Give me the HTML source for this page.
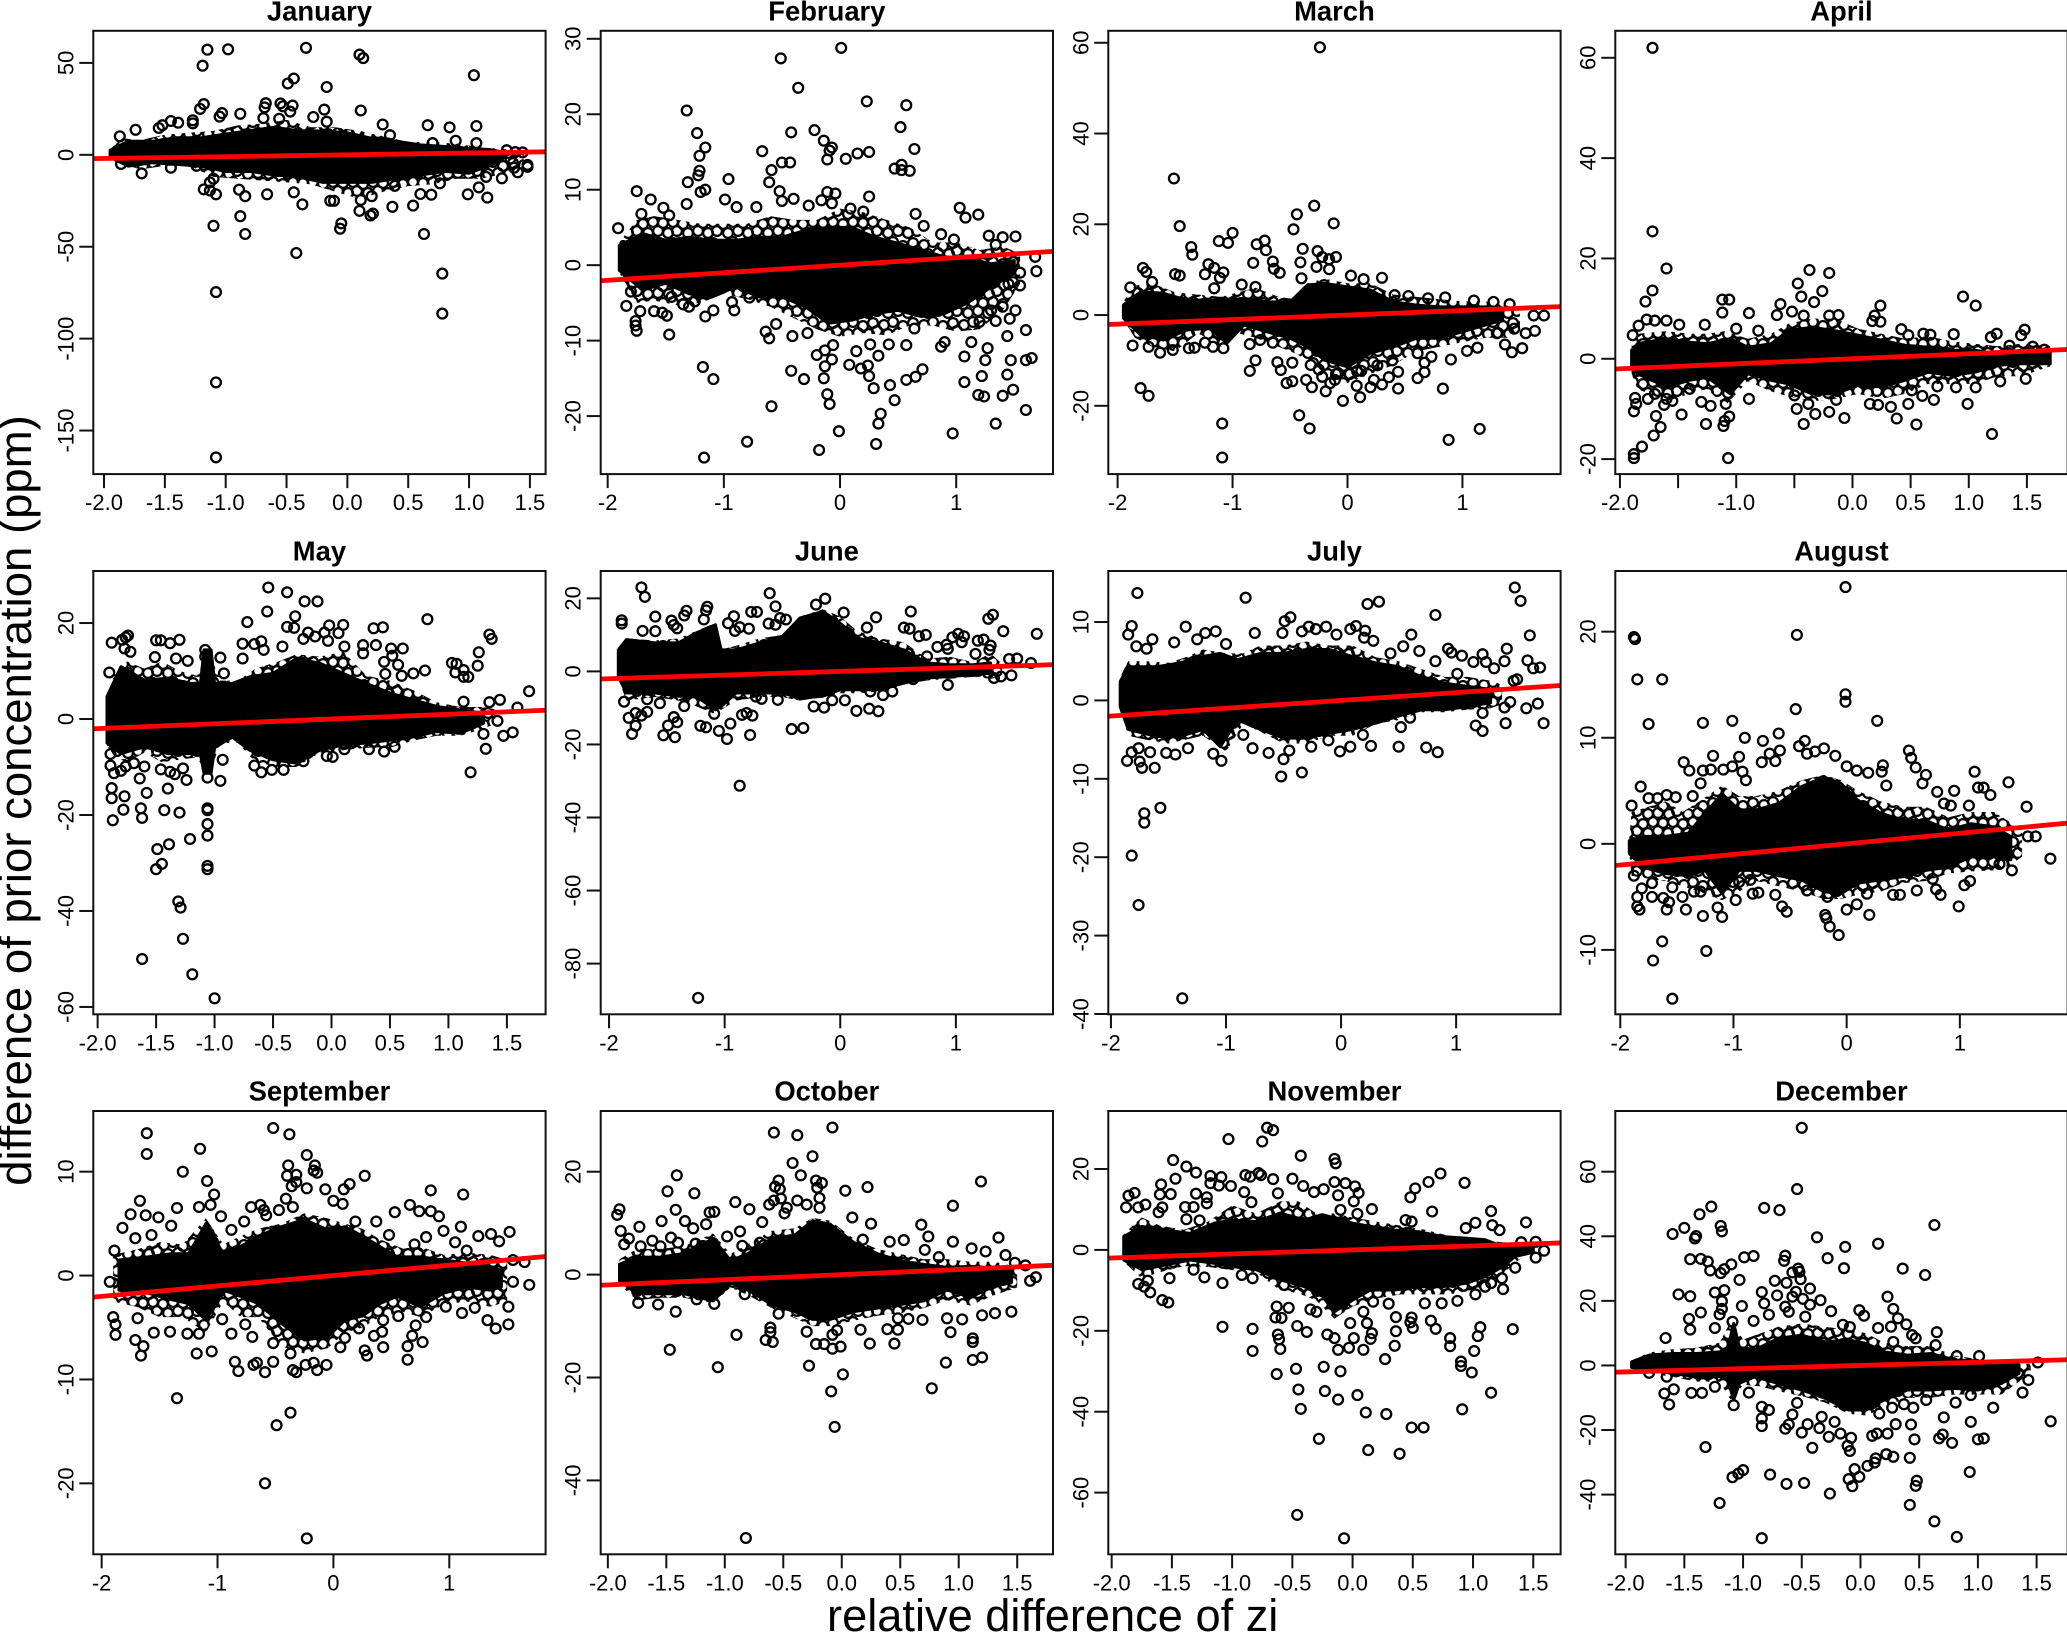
<!DOCTYPE html>
<html lang="en">
<head>
<meta charset="utf-8">
<title>Monthly scatter of prior concentration difference against relative difference of zi</title>
<style>
html,body{margin:0;padding:0;background:#fff;width:2067px;height:1633px;overflow:hidden}
svg{display:block}
text{font-family:"Liberation Sans",Arial,sans-serif;fill:#000}
</style>
</head>
<body>
<svg id="chart" xmlns="http://www.w3.org/2000/svg" width="2067" height="1633" viewBox="0 0 2067 1633">
<defs>
<pattern id="ring-texture" width="40" height="40" patternUnits="userSpaceOnUse">
<rect x="0" y="0" width="40" height="40" fill="#fff"/>
<g fill="none" stroke="#000" stroke-width="2.3">
<circle cx="4" cy="5" r="4.9"/><circle cx="44" cy="5" r="4.9"/><circle cx="4" cy="45" r="4.9"/><circle cx="44" cy="45" r="4.9"/>
<circle cx="13" cy="2" r="4.9"/><circle cx="13" cy="42" r="4.9"/>
<circle cx="23" cy="6" r="4.9"/>
<circle cx="33" cy="3" r="4.9"/><circle cx="33" cy="43" r="4.9"/>
<circle cx="8" cy="14" r="4.9"/><circle cx="18" cy="13" r="4.9"/><circle cx="29" cy="14" r="4.9"/>
<circle cx="37" cy="11" r="4.9"/><circle cx="-3" cy="11" r="4.9"/>
<circle cx="3" cy="24" r="4.9"/><circle cx="43" cy="24" r="4.9"/>
<circle cx="13" cy="22" r="4.9"/><circle cx="23" cy="23" r="4.9"/><circle cx="33" cy="22" r="4.9"/>
<circle cx="8" cy="33" r="4.9"/><circle cx="18" cy="31" r="4.9"/><circle cx="28" cy="33" r="4.9"/>
<circle cx="37" cy="31" r="4.9"/><circle cx="-3" cy="31" r="4.9"/>
</g>
</pattern>
</defs>
<rect x="0" y="0" width="2067" height="1633" fill="#fff"/>
<text transform="translate(31 800.5) rotate(-90)" text-anchor="middle" font-size="45.5">difference of prior concentration (ppm)</text>
<text x="1052.7" y="1631" text-anchor="middle" font-size="45.2">relative difference of zi</text>
</svg>
<script>
const months = ["January","February","March","April","May","June","July","August","September","October","November","December"];
const refSlope = 1;
const refIntercept = 0;

const janXLim = [-2.088,1.629];
const janYLim = [-173.7,67.47];
const janXTicks = [-2,-1.5,-1,-0.5,0,0.5,1,1.5];
const janXLabels = ["-2.0","-1.5","-1.0","-0.5","0.0","0.5","1.0","1.5"];
const janYTicks = [50,0,-50,-100,-150];
const janYLabels = ["50","0","-50","-100","-150"];
const janFringe = [[-1.95,3,-2],[-1.85,9,-5],[-1.7,8,-8],[-1.5,11,-6],[-1.3,12,-6],[-1.1,13,-12],[-0.9,16,-13],[-0.7,17,-14],[-0.5,19,-15],[-0.3,15,-16],[-0.1,15,-20],[0.1,13,-24],[0.3,10,-20],[0.5,7,-17],[0.7,7,-16],[0.9,6,-13],[1.1,4,-13],[1.3,3,-10],[1.45,2,-5]];
const janBand = [[-1.95,2.5,-1.4],[-1.8,7.4,-6.2],[-1.6,7.4,-4.3],[-1.4,9.3,-5.2],[-1.2,9.3,-6.2],[-1,11.3,-9.1],[-0.8,13.2,-9],[-0.6,15,-11],[-0.4,13,-12],[-0.2,13,-15],[0,12,-15],[0.2,9,-15],[0.4,7.4,-13],[0.6,5.4,-11],[0.8,4.5,-9],[1,3.5,-10],[1.2,2.5,-5],[1.28,1.5,-2]];
const janPoints = [[-1.15,57.2],[-0.98,57.4],[-1.19,48.5],[-0.34,58.2],[0.1,54.5],[0.13,52.6],[1.04,43.3],[-0.44,41.5],[-0.49,38.8],[-0.17,36.9],[-1.18,27.6],[-1.21,25],[-0.67,28.1],[-0.68,25.8],[-0.55,28],[-0.53,26.4],[-0.45,26.8],[-0.47,23.5],[-0.19,24.6],[0.11,24.1],[-1.03,22.7],[-1.05,20.8],[-0.88,22.3],[-0.28,20.6],[-0.69,20],[-0.56,19.6],[-0.17,18],[-1.27,18.8],[-1.27,17.1],[-1.45,18.4],[-1.39,17.5],[-1.52,16.1],[-1.55,14.6],[-1.74,13.6],[0.29,16.5],[0.66,16.1],[0.84,14.9],[1.06,15.7],[0.35,10.7],[-1.87,10.1],[0.89,7.6],[1.06,6.4],[0.7,6.4],[1.31,2.5],[1.38,1.5],[1.44,1.3],[1.34,-2],[1.48,-6.6],[1.48,-5.5],[1.4,-9.5],[1.37,-7],[1.27,-12.8],[1.14,-12],[1.15,-23.3],[1.08,-17.7],[0.99,-21.5],[0.76,-15.5],[0.69,-21.7],[0.6,-21.3],[0.54,-27.6],[0.37,-28.3],[0.39,-16.9],[0.2,-22.5],[0.19,-33],[0.21,-32],[0.1,-30.5],[0.11,-24.6],[-0.14,-25],[-0.11,-25],[-0.05,-37.3],[-0.06,-40.2],[-0.37,-27],[-0.44,-20.4],[-0.66,-21.5],[-0.84,-22.5],[-0.89,-19],[-1.08,-21.5],[-1.13,-19.4],[-1.18,-18.8],[-0.88,-33.4],[-1.1,-38.6],[-0.84,-43.1],[-0.42,-53.4],[0.63,-43.1],[0.78,-64.6],[0.78,-86.4],[-1.08,-74.7],[-1.08,-123.8],[-1.08,-164.6],[-1.69,-10.1],[-1.86,-5],[-1.45,-7],[-1.24,-6],[-1.1,-13],[-1.13,-15]];

const febXLim = [-2.06,1.833];
const febYLim = [-27.69,31.06];
const febXTicks = [-2,-1,0,1];
const febXLabels = ["-2","-1","0","1"];
const febYTicks = [30,20,10,0,-10,-20];
const febYLabels = ["30","20","10","0","-10","-20"];
const febFringe = [[-1.9,3,-1],[-1.75,6,-5],[-1.6,6.5,-4.7],[-1.4,6,-5.3],[-1.2,5.5,-5],[-1,5.5,-3.8],[-0.8,5.5,-4.5],[-0.6,6.5,-5.5],[-0.4,6,-7],[-0.2,6,-8.5],[0,7.5,-9.5],[0.2,7,-9],[0.4,6,-9.3],[0.6,5,-8],[0.8,3,-8],[1,3,-8.8],[1.2,2,-8.5],[1.4,2.5,-6],[1.55,1.5,-2.5]];
const febBand = [[-1.9,2.6,-0.7],[-1.7,4.2,-3.3],[-1.5,3.3,-2.4],[-1.3,3.7,-3.8],[-1.1,3.3,-4.2],[-0.9,3.3,-2.9],[-0.7,3.7,-4.2],[-0.5,3.7,-4.2],[-0.3,4.6,-5.5],[-0.1,5,-7.7],[0.1,5,-7.3],[0.3,3.7,-6.4],[0.5,2.9,-6],[0.7,2,-6.8],[0.9,1.1,-6.4],[1.1,0.9,-5],[1.3,0.2,-2.9],[1.5,0.6,-1.1]];
const febPoints = [[0.01,28.8],[-0.51,27.4],[-0.36,23.5],[-1.32,20.5],[0.23,21.7],[0.57,21.2],[0.52,18.3],[-1.23,17.5],[-0.42,17.6],[-0.22,17.9],[-0.14,16.5],[-0.07,15.6],[-0.09,15.2],[-1.16,15.6],[0.64,15.4],[-0.67,15.1],[0.25,15],[0.15,14.8],[-1.21,14.5],[0.05,14.1],[-0.11,14],[-0.5,13.6],[-0.43,13.6],[0.53,13.3],[0.47,12.8],[0.53,12.6],[0.6,12.5],[-0.59,12.6],[-1.21,12.5],[-1.22,11.9],[-0.96,11.4],[-1.31,11],[-0.61,11],[-1.16,10],[-1.2,9.7],[-1.75,9.8],[-0.52,9.8],[-0.11,9.7],[-0.04,9.5],[0.25,9.1],[-1.63,8.7],[-0.99,8.7],[-0.5,8.5],[-0.4,8.8],[-0.16,8.6],[-0.07,8.2],[-1.32,8.1],[-0.89,7.7],[-0.72,7.7],[-1.52,7.6],[-0.27,7.9],[0.09,7.5],[1.03,7.6],[1.08,6.3],[1.19,6.7],[0.65,6.8],[0.2,7.1],[-1.71,6.8],[-1.47,6.6],[-1.91,4.9],[0.72,5.2],[0.87,4.1],[1.28,3.9],[1.4,3.7],[1.51,3.8],[1.34,2.7],[0.98,3.4],[1.68,1.1],[1.69,-0.8],[1.55,-2.7],[-1.84,-5.4],[-1.72,-6.1],[-1.76,-7.4],[-1.76,-8],[-1.75,-8.7],[-1.6,-6.1],[-1.53,-6.3],[-1.49,-6.7],[-1.47,-9.2],[-1.09,-6],[-1.16,-6.8],[-0.93,-4.9],[-0.91,-6],[-0.78,-4.3],[-1.18,-13.5],[-1.09,-15.1],[-0.59,-18.7],[-0.8,-23.4],[-1.17,-25.5],[-0.18,-24.5],[-0.01,-22],[0.31,-23.7],[0.33,-21],[0.35,-19.7],[0.97,-22.3],[1.34,-21],[1.6,-19.2],[-0.09,-18.4],[-0.11,-17.1],[0.47,-17.9],[0.29,-16.3],[0.43,-15.9],[1.19,-17.2],[1.24,-17.4],[1.4,-17.3],[1.49,-16.5],[1.44,-14.5],[1.22,-14.7],[1.07,-15.5],[0.57,-15.2],[0.65,-14.8],[0.71,-13.8],[0.25,-14.7],[0.24,-13.3],[0.18,-13.7],[0.08,-13.2],[-0.14,-15],[-0.13,-13.4],[-0.31,-15.1],[-0.42,-14],[-0.2,-11.9],[-0.07,-12.5],[-0.13,-11.3],[-0.06,-10.6],[0.33,-12],[0.14,-11.4],[1.07,-12.1],[1.25,-12.6],[1.27,-11],[1.47,-12.6],[1.6,-12.6],[1.65,-12.3],[1.44,-9.4],[1.6,-8.6],[1.46,-7.1],[1.51,-6],[0.87,-10.8],[0.9,-10.2],[0.57,-10.6],[0.26,-10.5],[0.42,-10.5],[1.13,-10.2],[0.64,-8.4],[-0.41,-9.4],[-0.61,-9.7],[-0.64,-8.8],[-0.55,-7.8],[-0.28,-9],[1.34,-7.4],[1.4,-5.5],[1.3,-6],[1.2,-7.5],[1.55,-1],[1.45,-2.5],[-1.8,-3.5],[-1.45,-4.2],[-1.35,-5.2],[-1.3,-5.5],[-1.25,-4.8]];

const marXLim = [-2.081,1.854];
const marYLim = [-35.05,62.64];
const marXTicks = [-2,-1,0,1];
const marXLabels = ["-2","-1","0","1"];
const marYTicks = [60,40,20,0,-20];
const marYLabels = ["60","40","20","0","-20"];
const marFringe = [[-1.95,3,-1],[-1.85,6.5,-5],[-1.7,7,-7],[-1.5,5,-8],[-1.3,4.5,-4],[-1.1,4,-7],[-0.95,5,-4],[-0.8,6,-5],[-0.6,4,-7],[-0.45,3.5,-8.5],[-0.35,7,-10],[-0.2,8,-13],[0,7,-15],[0.2,7,-13],[0.4,4.5,-11],[0.6,4,-8],[0.8,3.5,-7],[1,3,-6],[1.2,3,-5],[1.4,2,-5],[1.5,1,-3]];
const marBand = [[-1.95,2.2,-0.7],[-1.8,5.1,-4.4],[-1.6,4.8,-5.5],[-1.4,3.3,-3.3],[-1.2,3.3,-2.9],[-1.05,3.3,-6.2],[-0.9,3.7,-2.2],[-0.7,2.9,-3.7],[-0.5,2.9,-5.1],[-0.35,6.6,-7],[-0.2,7,-9.9],[0,6.2,-11.4],[0.2,5.5,-8.4],[0.4,2.9,-7],[0.6,2.2,-5.1],[0.8,1.8,-5.1],[1,1.8,-3.7],[1.2,1.8,-2.2],[1.35,1.5,-1.1]];
const marPoints = [[-0.24,59],[-1.51,30.1],[-1.46,19.6],[-0.29,24.1],[-0.44,22.2],[-0.12,20.2],[-0.47,18.9],[-1,18.1],[-1.12,16.3],[-1.04,15.9],[-0.72,16.4],[-0.79,15.6],[-0.71,14.3],[-1.36,15],[-1.35,13.3],[-0.39,14.6],[-0.26,14.1],[-0.22,12.8],[-0.1,12.8],[-0.16,12.3],[-0.41,11.6],[-0.65,11.8],[-0.82,11.5],[-1.21,11.2],[-1.16,10.4],[-0.64,10.2],[-0.27,10.6],[-1.78,10.4],[-1.75,9.5],[-1.08,9.4],[-0.59,9.3],[-1.24,9],[-1.5,9],[-1.46,8.7],[-0.16,10.1],[0.03,8.7],[0.3,8.2],[0.14,7.9],[-0.4,8.1],[-1.11,8.2],[-1.7,7.3],[-0.92,6.7],[-1.16,5.9],[-0.8,6.2],[-1.89,6.1],[0.53,4.2],[0.41,4.4],[0.7,3.7],[0.85,3.9],[1.27,2.9],[1.1,3.2],[1.41,2.4],[1.71,-0.1],[1.62,-0.1],[1.63,-3.5],[1.52,-7.3],[1.43,-8.2],[1.37,-6.5],[1.13,-7.2],[1.04,-7.9],[0.9,-9.8],[0.61,-8.4],[0.73,-9.2],[0.67,-10.5],[0.67,-12.6],[0.61,-13.9],[0.83,-16.2],[0.88,-27.5],[1.15,-25.1],[0.44,-16.2],[0.44,-12.5],[0.36,-13.7],[0.39,-10],[0.3,-15.3],[0.26,-11.1],[0.23,-14.3],[0.2,-15.9],[0.11,-18.1],[0.08,-15.6],[-0.04,-18.9],[0.12,-12.3],[-0.19,-16.8],[-0.11,-14.3],[-0.22,-13.6],[-0.31,-15.9],[-0.36,-14.3],[-0.48,-14.6],[-0.53,-15],[-0.58,-12.1],[-0.61,-10.4],[-0.48,-10.5],[-0.8,-10],[-0.85,-12.3],[-0.85,-6.4],[-0.65,-6.1],[-0.76,-5.5],[-0.42,-22.1],[-0.33,-25],[-1.09,-23.9],[-1.09,-31.4],[-1.8,-16.1],[-1.73,-17.8],[-1.87,-6.7],[-1.73,-7],[-1.63,-8.3],[-1.52,-7.7],[-1.38,-7.3],[-1.33,-7.2],[-1.24,-6.1],[-1.17,-7],[-1.08,-7.3],[-0.32,-11],[-0.25,-12],[-0.1,-13],[-0.15,-15],[0.02,-13],[1.45,-3],[1.55,-4],[1.3,-4]];

const aprXLim = [-2.04,1.85];
const aprYLim = [-22.99,65.38];
const aprXTicks = [-2,-1.5,-1,-0.5,0,0.5,1,1.5];
const aprXLabels = ["-2.0","","-1.0","","0.0","0.5","1.0","1.5"];
const aprYTicks = [60,40,20,0,-20];
const aprYLabels = ["60","40","20","0","-20"];
const aprFringe = [[-1.9,3,-3],[-1.85,5,-6],[-1.6,5.5,-8.5],[-1.4,5,-7],[-1.25,5,-6],[-1.1,5.5,-9.5],[-0.9,4,-4.5],[-0.7,5,-6.5],[-0.55,7,-7.5],[-0.35,8,-8.5],[-0.15,8,-8],[0.05,6,-7],[0.25,5,-8],[0.45,4,-7],[0.65,4.5,-5],[0.85,3.5,-5],[1.05,3,-5],[1.25,2.5,-3.5],[1.45,3,-3.5],[1.7,2.5,-1.5]];
const aprBand = [[-1.9,1.7,-1.7],[-1.85,3,-3],[-1.6,4,-5.6],[-1.4,3.3,-4.3],[-1.25,3,-3.7],[-1.05,4,-7],[-0.9,2.3,-3],[-0.7,3,-4.3],[-0.55,5.6,-5],[-0.35,6.3,-7],[-0.15,5.6,-7],[0.05,4.7,-5.3],[0.25,3.7,-5.6],[0.45,2.7,-4.3],[0.65,2.3,-2.7],[0.85,1.7,-3.3],[1.05,1.7,-2.7],[1.25,1,-1.3],[1.45,1.7,-1],[1.7,1.3,-1]];
const aprPoints = [[-1.72,62],[-1.72,25.4],[-1.6,18],[-1.72,13.6],[-1.78,11.4],[-0.37,17.7],[-0.2,17.1],[-0.47,15],[-0.26,13.5],[-0.44,12.4],[-0.33,11.3],[-0.62,10.9],[-1.12,11.8],[-1.06,11.8],[-1.12,9.2],[-0.89,9.1],[-0.65,8.7],[-0.52,9.4],[-0.42,8.6],[-0.12,8.7],[-0.2,8.6],[0.24,10.6],[0.19,8.6],[0.17,7.5],[0.24,7.4],[0.95,12.4],[1.06,10.6],[0.42,5.9],[1.48,5.8],[1.24,5],[1.19,4.3],[1.45,4.7],[0.87,4.9],[0.67,4.8],[0.61,5],[0.48,4.7],[-1.84,6.6],[-1.77,7.8],[-1.7,7.6],[-1.6,7.6],[-1.49,6.8],[-1.27,6.8],[-1,6],[-0.81,5.6],[-1.89,4.7],[1.2,-15],[0.99,-9],[0.55,-13.1],[0.38,-11.9],[0.33,-9.6],[0.48,-9],[0.51,-6.3],[0.7,-8.2],[0.6,-7.4],[0.73,-5.5],[1.06,-5.7],[0.89,-5.7],[1.27,-4.5],[1.49,-4],[-0.07,-11.8],[-0.2,-10.6],[-0.32,-11],[-0.42,-13],[-0.48,-10],[-0.14,-8.2],[-0.38,-9],[-0.5,-7.3],[-0.89,-8],[-1.07,-19.8],[-1.11,-13.4],[-1.1,-12.4],[-1.06,-11.5],[-1.26,-13],[-1.22,-9.4],[-1.3,-8.6],[-1.47,-11.1],[-1.55,-8.4],[-1.62,-9.2],[-1.69,-11.4],[-1.65,-13.6],[-1.71,-15.3],[-1.81,-17.5],[-1.88,-19],[-1.88,-19.8],[-1.88,-10.5],[-1.86,-9],[-1.87,-7.8],[0.15,-9],[0.22,-9.2],[-1.09,-9],[-1.7,-7],[-1.76,-8],[-1.6,-8],[-1.4,-6],[1.65,1.8],[1.55,2.4],[1.35,2.6]];

const mayXLim = [-2.037,1.831];
const mayYLim = [-61.53,30.84];
const mayXTicks = [-2,-1.5,-1,-0.5,0,0.5,1,1.5];
const mayXLabels = ["-2.0","-1.5","-1.0","-0.5","0.0","0.5","1.0","1.5"];
const mayYTicks = [20,0,-20,-40,-60];
const mayYLabels = ["20","0","-20","-40","-60"];
const mayFringe = [[-1.92,5,-5.5],[-1.85,9.5,-8],[-1.75,12,-9],[-1.6,10.5,-7],[-1.45,12,-9],[-1.3,10,-8.5],[-1.15,9,-8],[-1.05,14,-12],[-0.95,8,-5],[-0.8,8,-5],[-0.65,10.5,-9],[-0.45,12,-10],[-0.3,13.5,-10],[-0.1,13,-7],[0.1,14,-6.5],[0.3,9,-6],[0.5,8,-6],[0.7,6,-4.5],[0.9,3.5,-3.5],[1.1,2.5,-3.5],[1.3,2.5,-2],[1.4,2,-1]];
const mayBand = [[-1.92,4.7,-5],[-1.8,10.9,-7.2],[-1.6,8.1,-5.8],[-1.4,8.5,-7.2],[-1.2,7.4,-7.2],[-1.12,7.5,-7.5],[-1.09,14.4,-11.3],[-1.03,14.4,-11.3],[-1,7.4,-6],[-0.85,7.4,-3.7],[-0.7,8.8,-6.5],[-0.5,9.5,-8.5],[-0.3,12.6,-9.2],[-0.1,11.6,-6.5],[0.1,9.5,-5.4],[0.3,7.4,-5],[0.5,5.4,-4.4],[0.7,4,-3.7],[0.9,2.6,-2.6],[1.1,1.9,-3],[1.3,1.2,-0.9]];
const mayPoints = [[-0.54,27.4],[-0.38,26.4],[-0.23,24.5],[-0.12,24.5],[-0.55,22.4],[-0.31,21.4],[-0.72,20.2],[-0.38,19.2],[-0.32,19],[-0.02,19.5],[0.1,19.6],[0.06,17.9],[0.36,18.9],[0.44,19.1],[0.82,20.8],[1.35,17.6],[1.37,16.7],[1.26,13.9],[1.25,11.1],[1.03,11.7],[1.07,11.5],[1.13,10.2],[1.13,8.8],[1.17,8.8],[1.06,9.7],[0.8,10.1],[0.61,14.7],[0.51,14.7],[0.52,13.2],[0.45,11.9],[0.57,11.3],[0.6,9],[0.46,9.4],[0.7,9.5],[1.69,5.8],[1.44,4],[1.13,3.6],[1.35,3.5],[1.59,2.4],[0.38,15.4],[0.27,15.4],[0.27,13.7],[0.11,15.1],[-0.03,16.3],[-0.06,18],[-0.14,17.2],[-0.2,18],[-0.24,16.7],[-0.6,16.2],[-0.66,15.6],[-0.76,15.7],[-0.58,14.4],[-0.42,15.1],[-0.95,12.8],[-1.3,16.5],[-1.38,15.8],[-1.46,16.4],[-1.5,16.4],[-1.74,17.4],[-1.76,17],[-1.79,16.5],[-1.88,15.9],[-1.77,14.7],[-1.72,14],[-1.08,14.4],[-1.08,13],[-1.33,12.6],[-1.23,12.1],[-1.51,12.9],[-1.9,9.7],[-0.92,9.5],[-0.76,12.6],[1.19,-11.1],[1.32,-6.2],[1.55,-2.8],[1.47,-3.5],[1.3,-3.1],[1.42,-0.4],[0.45,-6.8],[0.54,-5.8],[0.32,-6.3],[0.11,-6.3],[0.01,-7.9],[-0.04,-7.7],[-0.24,-8.8],[-0.41,-10.6],[-0.51,-10.6],[-0.6,-11.1],[-0.66,-9.7],[-0.93,-8.5],[-0.95,-12.9],[-1.06,-12.2],[-1.24,-12.7],[-1.27,-10.3],[-1.34,-11.5],[-1.38,-11],[-1.46,-10.5],[-1.6,-9.9],[-1.69,-9.2],[-1.76,-9.9],[-1.8,-10.8],[-1.86,-11.3],[-1.89,-9.7],[-1.89,-7.3],[-1.64,-12.4],[-1.88,-14.4],[-1.88,-16.5],[-1.77,-16.1],[-1.58,-15.4],[-1.4,-14.5],[-1.78,-18.9],[-1.63,-18.6],[-1.43,-19],[-1.3,-19.5],[-1.87,-21.1],[-1.62,-20.6],[-1.06,-18.6],[-1.06,-19],[-1.06,-21.9],[-1.06,-24.3],[-1.21,-25],[-1.39,-26.1],[-1.49,-27.1],[-1.45,-30.2],[-1.5,-31.3],[-1.06,-30.6],[-1.06,-31.3],[-1.31,-38],[-1.29,-39.3],[-1.27,-45.8],[-1.62,-50],[-1.19,-53.2],[-1,-58.2]];

const junXLim = [-2.072,1.84];
const junYLim = [-93.88,27.49];
const junXTicks = [-2,-1,0,1];
const junXLabels = ["-2","-1","0","1"];
const junYTicks = [20,0,-20,-40,-60,-80];
const junYLabels = ["20","0","-20","-40","-60","-80"];
const junFringe = [[-1.92,6,-2],[-1.85,9,-8],[-1.6,8.5,-7],[-1.4,9,-8],[-1.25,11,-9.5],[-1.1,13,-11.5],[-1.03,6,-10.5],[-0.9,7,-8],[-0.7,9,-7],[-0.5,10,-7],[-0.35,15,-8],[-0.15,17,-7],[0,15,-6],[0.15,11,-6],[0.35,9,-5.5],[0.55,8,-3.5],[0.75,3.5,-2.5],[0.95,4,-2],[1.15,2.5,-1.5],[1.3,5,-2],[1.4,2,-1.5]];
const junBand = [[-1.92,5.9,-1.4],[-1.85,8.7,-5.9],[-1.6,7.8,-5.9],[-1.4,7.8,-6.8],[-1.25,10.5,-6.8],[-1.08,12.8,-10.5],[-1.03,5.9,-9.6],[-0.9,5.9,-5.9],[-0.7,7.8,-5.9],[-0.5,9.6,-5.9],[-0.35,14.6,-7.3],[-0.15,16.4,-6.8],[0,13.2,-5],[0.15,9.1,-5],[0.35,7.8,-5],[0.55,5.9,-3.2],[0.75,2.3,-1.8],[0.95,1.8,-1.4],[1.15,1.8,-0.9],[1.3,2.3,-0.5]];
const junPoints = [[-1.72,23],[-1.69,20.4],[-0.61,21.4],[-0.13,19.9],[-0.21,18.3],[-0.56,17.8],[-1.15,17.7],[-1.16,16.7],[-1.33,16.6],[-1.35,15.3],[-0.77,16.3],[-0.72,16.3],[0.61,16.4],[0.03,16.1],[-1.6,15],[-1.89,14],[-1.89,13.1],[1.32,15.5],[1.28,14.4],[0.31,14.8],[-1.18,14.2],[-1.46,13.9],[-1.44,12.7],[-1.41,11.8],[-0.97,13.2],[-0.92,15.1],[-0.87,12.1],[-0.79,11.7],[-0.91,11.1],[-0.62,13.1],[-0.56,12.8],[-0.52,14.6],[-0.47,14.2],[1.41,11],[0.23,12],[0.55,12],[0.6,11.7],[0.74,10],[0.68,9.6],[1.7,10.3],[-1.71,11.1],[-1.6,11],[1.02,10.3],[1.07,9.6],[0.97,9.3],[1.05,8],[1.19,8.4],[1.24,8.7],[0.92,7.3],[1.3,7.1],[0.84,6.7],[0.93,6.2],[0.75,4.1],[1.17,4.8],[1.29,5.9],[1.46,3.4],[1.53,3.5],[1.65,2.3],[1.48,-1.1],[0.93,-3.7],[0.63,-2.1],[1.33,-1.8],[1.39,-1.4],[0.45,-5.5],[0.37,-6.5],[0.33,-10.9],[0.25,-10.2],[0.14,-10.8],[0.26,-5.5],[0.04,-7.9],[-0.07,-7.9],[-0.14,-9.9],[-0.23,-9.6],[-0.32,-15.5],[-0.42,-15.8],[-0.68,-7.5],[-0.73,-6.9],[-0.54,-7.8],[-0.76,-12.1],[-0.81,-11.4],[-0.85,-11.9],[-0.78,-17.4],[-0.87,-31.3],[-0.95,-14.3],[-0.98,-18.5],[-1.05,-16.3],[-1.16,-15.3],[-1.21,-14.9],[-1.09,-11.6],[-1.43,-18],[-1.41,-13.9],[-1.44,-12.5],[-1.49,-14.8],[-1.53,-17.5],[-1.35,-9.5],[-1.56,-8.7],[-1.8,-17.1],[-1.77,-14.9],[-1.83,-12.7],[-1.77,-11.4],[-1.72,-12.1],[-1.67,-11.1],[-1.67,-7.6],[-1.87,-8.3],[-1.23,-89.4]];

const julXLim = [-2.023,1.908];
const julYLim = [-40.04,16.51];
const julXTicks = [-2,-1,0,1];
const julXLabels = ["-2","-1","0","1"];
const julYTicks = [10,0,-10,-20,-30,-40];
const julYLabels = ["10","0","-10","-20","-30","-40"];
const julFringe = [[-1.92,3,-1],[-1.85,5,-4.5],[-1.7,5,-5],[-1.5,4.8,-5.5],[-1.35,5.5,-5],[-1.2,6.5,-4.5],[-1,6,-6.5],[-0.85,6,-3],[-0.7,7,-4],[-0.5,7,-5.5],[-0.3,7.5,-5.5],[-0.1,7,-4.5],[0.1,7,-4.5],[0.3,5.5,-3],[0.5,5,-2.5],[0.7,4,-1.5],[0.9,3,-1.5],[1.1,3,-1.2],[1.3,2.5,-1],[1.4,2,-0.5]];
const julBand = [[-1.92,2.4,-0.8],[-1.85,4.3,-3.7],[-1.6,4.3,-4.6],[-1.4,4.8,-4.6],[-1.2,5.6,-3.7],[-1.05,6,-5.9],[-0.9,5.2,-2.5],[-0.7,6,-3.7],[-0.5,6,-4.8],[-0.3,6.5,-4.8],[-0.1,6.5,-4.2],[0.1,5.6,-3.7],[0.3,4.8,-2.9],[0.5,4.3,-2],[0.7,3,-1.2],[0.9,2.2,-1.2],[1.1,1.8,-0.8],[1.3,1.4,-0.3]];
const julPoints = [[1.51,14.4],[1.56,12.7],[-0.83,13.1],[-1.77,13.7],[0.23,12.3],[0.33,12.6],[0.82,10.9],[-1.82,9.5],[-1.85,8.4],[-1.35,9.4],[-1.64,7.8],[-1.45,7.4],[-1.18,8.6],[-1.09,8.8],[-1.25,7.8],[-1,7.2],[-0.44,10.6],[-0.49,10.1],[-0.51,8.6],[-0.75,8.6],[-0.34,8.8],[-0.28,9.4],[-0.22,9.1],[-0.13,9.4],[-0.04,8.4],[0.08,9.1],[0.13,9.5],[0.21,8.9],[0.2,8],[0.28,7.6],[0.61,8.4],[0.54,6.9],[0.68,6.3],[0.93,6.6],[0.96,6.1],[1.05,5.7],[1.23,5.9],[1.44,6.6],[1.64,8.3],[1.62,5.1],[1.67,4.1],[1.73,4.2],[1.15,4.9],[1.26,4.9],[1.42,5],[1.33,4.1],[0.82,5],[1.01,3.4],[1.53,2.7],[1.5,2.5],[0.43,6],[-1.78,6.9],[-1.69,6.6],[1.71,-0.4],[1.61,-1],[1.76,-2.9],[1.43,-2.9],[1.23,-3.9],[1.17,-3.2],[1.23,-1.6],[1.47,-0.2],[1.42,-0.9],[0.84,-6.6],[0.74,-6],[0.5,-5.9],[0.52,-3.4],[0.6,-2.2],[0.26,-5.8],[0.19,-4.4],[0.08,-5.9],[-0.01,-6.5],[-0.11,-5.1],[-0.26,-5.9],[-0.34,-9.2],[-0.52,-9.7],[-0.5,-7.5],[-0.45,-6.4],[-0.63,-6.7],[-0.77,-6.1],[-0.85,-4.4],[-1.04,-7.7],[-1.11,-6.8],[-1.44,-6.9],[-1.52,-6.7],[-1.33,-6.1],[-1.66,-6.6],[-1.62,-8.6],[-1.73,-8.6],[-1.75,-7.8],[-1.86,-7.7],[-1.82,-6.6],[-1.76,-6.1],[-1.71,-14.4],[-1.71,-15.6],[-1.57,-13.7],[-1.82,-19.8],[-1.76,-26.1],[-1.38,-38]];

const augXLim = [-2.044,1.952];
const augYLim = [-16.07,25.72];
const augXTicks = [-2,-1,0,1];
const augXLabels = ["-2","-1","0","1"];
const augYTicks = [20,10,0,-10];
const augYLabels = ["20","10","0","-10"];
const augFringe = [[-1.92,0.5,-1],[-1.9,3,-3],[-1.75,3.5,-3.3],[-1.6,4,-3.5],[-1.45,3,-4],[-1.3,4,-4.5],[-1.1,5.5,-5.3],[-0.95,4.5,-4.5],[-0.8,4.5,-3.5],[-0.6,5,-4],[-0.4,6,-4.5],[-0.2,6.5,-5.2],[-0.05,6,-5.2],[0.1,5,-4.8],[0.3,4,-4.5],[0.5,3.5,-3.7],[0.7,3.5,-3.5],[0.9,2.5,-2.8],[1.1,3,-2.6],[1.3,3,-2.5],[1.45,2,-2],[1.55,1,-1.2]];
const augBand = [[-1.92,0.3,-0.9],[-1.8,0.7,-2.2],[-1.6,0.7,-2.8],[-1.4,1,-3],[-1.25,2.9,-2.5],[-1.1,4.7,-4.7],[-0.95,3.2,-2.5],[-0.8,3.2,-2.5],[-0.6,3.8,-3],[-0.4,5.4,-3.4],[-0.2,6.3,-4.5],[-0.05,5.7,-4.7],[0.1,4.1,-3.7],[0.3,2.9,-3.4],[0.5,2.2,-3.1],[0.7,2.2,-2.5],[0.9,1.3,-2.2],[1.1,1.9,-1.2],[1.3,1.6,-1.2],[1.45,0.7,-1.5]];
const augPoints = [[-0.01,24.2],[-0.44,19.7],[-1.88,19.5],[-1.87,19.3],[-1.85,15.5],[-1.63,15.5],[-0.01,14.1],[-0.01,13.4],[-0.45,12.7],[0.27,11.6],[-1.01,11.6],[-1.27,11.4],[-1.75,11.3],[-0.9,10],[-0.6,10.4],[-0.74,9.7],[-0.37,9.7],[-0.42,9.2],[-0.2,9],[-0.28,8.7],[-0.35,8.5],[-0.59,8.8],[-0.68,8.5],[0.55,8.8],[0.57,8.1],[0.61,7.2],[0.7,6.5],[-1.18,8.3],[-0.95,8.2],[-0.1,8.3],[-1.44,7.7],[-1.39,6.9],[-1.27,6.9],[-1.2,7],[-1.09,7],[-1.01,7.3],[-0.92,6.8],[-0.75,7.7],[-0.63,7.8],[0.32,7.4],[0.31,6.8],[0.19,6.7],[0.09,6.9],[0,7.3],[1.13,6.8],[1.43,5.8],[1.16,5.3],[1.21,5.3],[1.27,4.6],[0.67,5.7],[0.8,4.9],[0.95,5],[1.59,3.5],[1.08,3.6],[0.92,3.6],[0.86,3.8],[0.35,5.5],[-1.82,5.4],[-0.89,6],[-1.29,5.7],[-1.9,3.6],[-1.75,4.3],[-1.67,4.3],[-1.59,4.6],[-1.51,4.4],[-1.36,4.5],[1.67,0.7],[1.6,0.7],[1.8,-1.4],[1.46,-2.5],[1.35,-1.9],[1.09,-3.5],[1.04,-3.9],[0.99,-5.9],[0.83,-4.8],[0.79,-4.3],[0.62,-4.4],[0.47,-4.8],[0.41,-4.8],[0.76,-3.3],[0.18,-4.7],[0.2,-6.7],[0.09,-5.7],[0,-6.2],[-0.07,-8.6],[-0.15,-7.8],[-0.18,-7],[-0.19,-6.7],[-0.17,-5],[-0.35,-4.4],[-0.53,-6.4],[-0.57,-5.9],[-0.63,-4.8],[-0.78,-4.6],[-0.83,-4.7],[-0.98,-5.3],[-0.95,-3.6],[-0.85,-3.4],[-1.1,-6.9],[-1.14,-6],[-1.27,-6.8],[-1.24,-10.1],[-1.42,-6.2],[-1.45,-5],[-1.54,-4.1],[-1.57,-5.5],[-1.59,-6.2],[-1.62,-5.1],[-1.63,-9.2],[-1.71,-11],[-1.54,-14.6],[-1.72,-5],[-1.72,-3.7],[-1.81,-4.2],[-1.85,-5],[-1.83,-6.2],[-1.85,-5.9],[-1.88,-3],[-1.35,-4.5],[-1.29,-4.5]];

const sepXLim = [-2.072,1.831];
const sepYLim = [-26.83,15.84];
const sepXTicks = [-2,-1,0,1];
const sepXLabels = ["-2","-1","0","1"];
const sepYTicks = [10,0,-10,-20];
const sepYLabels = ["10","0","-10","-20"];
const sepFringe = [[-1.9,2,-2.5],[-1.7,2.5,-3],[-1.5,3.2,-4],[-1.3,3,-4],[-1.1,5.5,-5.5],[-0.95,3,-2.5],[-0.8,3.8,-4],[-0.65,4.5,-4],[-0.45,5,-6.8],[-0.25,6,-7.5],[-0.05,5.5,-7],[0.1,5,-5.5],[0.25,4.5,-5],[0.4,3.5,-4],[0.6,2.6,-3.5],[0.75,2.8,-4],[0.95,2,-2.8],[1.15,2.2,-2.5],[1.35,2,-3],[1.5,1.5,-2.5]];
const sepBand = [[-1.85,1.5,-1.4],[-1.6,1.8,-1.7],[-1.4,2.1,-2.3],[-1.25,2.1,-2.7],[-1.1,5,-4.3],[-0.95,2.1,-1.4],[-0.8,2.8,-2],[-0.65,3.8,-2.7],[-0.45,4.7,-4.6],[-0.25,5.4,-6.2],[-0.05,4.4,-5.9],[0.1,4.7,-4.3],[0.25,3.8,-3.9],[0.4,2.8,-2.7],[0.55,1.8,-2],[0.75,1.8,-3],[0.95,1.5,-1.7],[1.15,1.2,-1.1],[1.35,0.9,-1.4],[1.45,0.5,-1.1]];
const sepPoints = [[-0.52,14.2],[-0.38,13.6],[-1.61,13.7],[-1.61,11.7],[-1.15,12.2],[-0.23,11.6],[-0.16,10.6],[-1.3,10],[-0.39,10.6],[-0.17,10.1],[-0.14,9.9],[-0.4,9.6],[-0.32,9.7],[0.27,9.6],[-1.09,9.1],[-0.32,9],[0.14,8.8],[0.09,8.3],[-0.36,8.6],[-0.23,8.4],[-0.07,8.3],[0.84,8.2],[1.12,7.8],[-1.03,7.8],[-1.67,7.2],[-0.41,7.4],[0,7.2],[0.08,6.9],[0.66,6.8],[-1.06,6.8],[-1.16,6.6],[-1.35,6.5],[-0.71,6.6],[-0.63,6.8],[-0.6,6.3],[-0.47,6.3],[-0.35,6.6],[0.53,6.1],[0.74,6.2],[0.84,6.2],[0.91,5.7],[-1.75,5.9],[-1.62,5.8],[-1.51,5.6],[-0.97,5.7],[-0.58,5.8],[0.19,5.2],[0.37,5.2],[-0.77,5.2],[1.1,4.7],[0.95,4.3],[1.52,4.2],[1.36,4],[1.25,3.8],[1.43,3.3],[0.8,3.7],[1.05,3.2],[-1.82,4.6],[-1.4,4.8],[-0.88,4.4],[-1.71,3.6],[-1.57,3.9],[0.48,3.9],[0.7,3],[1.15,2.4],[1.55,1.5],[1.65,1.3],[-1.89,2.4],[1.69,-0.9],[-1.93,-0.6],[1.55,-0.6],[1.51,-3],[1.51,-4.7],[1.4,-5.1],[1.33,-4.3],[1.22,-3.1],[1.11,-3.6],[0.97,-3],[0.8,-4],[0.71,-4.8],[0.68,-5.8],[0.77,-6.4],[0.64,-6.8],[0.64,-8.1],[0.43,-6.9],[0.43,-4.3],[0.42,-5.4],[0.35,-5.8],[0.56,-3.9],[0.27,-7.2],[0.29,-7.7],[0.06,-6.9],[0.1,-6],[0.22,-5.1],[-0.06,-8.6],[-0.14,-9.1],[-0.17,-8.4],[-0.24,-8.6],[-0.32,-9.3],[-0.35,-9.1],[-0.37,-7.5],[-0.52,-8.3],[-0.59,-9.3],[-0.66,-8.4],[-0.69,-8.6],[-0.82,-9.2],[-0.85,-8.3],[-0.7,-5.9],[-0.76,-4.7],[-0.88,-5.6],[-0.96,-4.2],[-0.52,-6.5],[-1.05,-7.3],[-1.18,-7.5],[-1.26,-5.6],[-1.16,-5.6],[-1.35,-11.8],[-1.55,-5.5],[-1.41,-5.4],[-1.66,-7.7],[-1.64,-6.8],[-1.71,-6.2],[-1.69,-4.1],[-1.88,-5.7],[-1.88,-4.7],[-1.9,-4],[-0.37,-13.2],[-0.49,-14.4],[-0.59,-20],[-0.23,-25.3]];

const octXLim = [-2.061,1.806];
const octYLim = [-54.36,31.8];
const octXTicks = [-2,-1.5,-1,-0.5,0,0.5,1,1.5];
const octXLabels = ["-2.0","-1.5","-1.0","-0.5","0.0","0.5","1.0","1.5"];
const octYTicks = [20,0,-20,-40];
const octYLabels = ["20","0","-20","-40"];
const octFringe = [[-1.9,3,-2],[-1.75,5,-5],[-1.55,5,-4.5],[-1.35,5.5,-4.5],[-1.1,8,-5.5],[-0.95,4,-2.5],[-0.8,6,-4],[-0.6,8.5,-6.5],[-0.4,9,-8.5],[-0.25,11,-10],[-0.1,10.5,-10],[0.1,7,-9],[0.3,5,-8],[0.5,4,-7.5],[0.7,3,-6.5],[0.9,3,-5],[1.1,2.5,-6],[1.3,2.5,-4],[1.5,1.5,-2.5]];
const octBand = [[-1.9,2,-1.2],[-1.75,3.4,-3.7],[-1.55,3.4,-3.7],[-1.35,4.1,-3.7],[-1.1,7,-5.1],[-0.95,2.7,-1.6],[-0.8,4.1,-3],[-0.6,7,-5.8],[-0.4,7.7,-7.2],[-0.25,10.5,-8.7],[-0.1,9.8,-8.7],[0.1,6.3,-7.2],[0.3,4.1,-6.5],[0.5,2.7,-5.8],[0.7,2,-5.1],[0.9,1.4,-3],[1.1,1.6,-4.4],[1.3,1.3,-2.3],[1.45,0.6,-1.6]];
const octPoints = [[-0.08,28.6],[-0.58,27.6],[-0.38,27.1],[-0.25,23],[-0.42,21.7],[-0.35,19.3],[-1.41,19.3],[-1.49,16.2],[-1.26,15.8],[-0.54,18.3],[-0.57,17.1],[-0.53,16.6],[-0.22,18.3],[-0.17,17.8],[-0.21,16.9],[0.03,16.3],[0.22,17],[1.19,18.1],[0.95,13.4],[-0.91,14.1],[-0.19,14.9],[-0.52,14.8],[-0.38,14.4],[-0.58,14.4],[-0.62,13.6],[-0.79,12.7],[-1.42,12.6],[-1.9,12.7],[-1.92,11.6],[-1.13,12.1],[-1.09,12.2],[-0.3,13.6],[-0.19,13],[-0.49,11.9],[-0.47,13],[0.09,11.1],[-1.34,10.4],[-1.54,10.4],[-0.68,10.2],[-1.16,9.8],[0.25,9.9],[0.68,9.7],[-1.73,9.3],[-1.27,9],[-1.89,8.5],[-0.87,8.4],[0.74,7.4],[1.34,7.2],[-0.98,7.4],[-1.46,7.2],[-1.82,7],[-1.62,6.6],[0.53,6.7],[0.18,6.8],[0.95,6.4],[0.41,6.4],[-1.86,5.9],[0.71,4.8],[1.11,5.1],[1.23,4.5],[1.4,3.8],[0.83,3.4],[1.48,2.3],[1.57,1.8],[1.66,-0.5],[1.61,-1.2],[1.45,-7.2],[1.31,-7.5],[1.2,-7.9],[1.03,-8.7],[0.9,-8.5],[0.93,-11.2],[1.12,-12.4],[1.12,-13.1],[1.2,-16.1],[1.12,-16.6],[0.89,-17.1],[0.77,-22.1],[0.69,-8.8],[0.57,-8.6],[0.48,-8.5],[0.48,-10.7],[0.45,-13.4],[0.39,-10.6],[0.24,-13.4],[0.16,-10.7],[0.01,-19.4],[-0.01,-14],[-0.08,-14.4],[-0.15,-13.5],[-0.22,-13.5],[-0.04,-10.8],[-0.08,-11.7],[-0.28,-17.7],[-0.09,-22.7],[-0.06,-29.6],[-0.3,-11.1],[-0.61,-10.3],[-0.61,-11.2],[-0.65,-12.7],[-0.59,-13.1],[-0.54,-7.6],[-0.9,-11.7],[-1.06,-18],[-1.47,-14.6],[-1.42,-7.2],[-1.57,-5.8],[-1.74,-5.5],[-1.24,-4.8],[-1.09,-5.7],[-0.83,-3.8],[-0.82,-51.2],[-1.72,5.5],[-1.55,5.5],[-1.4,6.2],[-1.25,6],[-0.85,5.6],[-0.7,6.2]];

const novXLim = [-2.028,1.727];
const novYLim = [-75.25,34.34];
const novXTicks = [-2,-1.5,-1,-0.5,0,0.5,1,1.5];
const novXLabels = ["-2.0","-1.5","-1.0","-0.5","0.0","0.5","1.0","1.5"];
const novYTicks = [20,0,-20,-40,-60];
const novYLabels = ["20","0","-20","-40","-60"];
const novFringe = [[-1.9,4,-3],[-1.75,8,-7],[-1.6,6,-5.5],[-1.4,5,-4],[-1.2,7,-4.2],[-1,11,-5],[-0.8,9,-5.5],[-0.6,12,-10],[-0.45,12,-10.7],[-0.3,9,-12.5],[-0.15,9,-17],[0,8,-14],[0.2,7,-12],[0.4,6,-11],[0.6,5,-11],[0.8,3.5,-11],[1,3,-10],[1.2,2,-7],[1.4,1.5,-2]];
const novBand = [[-1.9,3.3,-2.5],[-1.75,5.8,-4.9],[-1.55,4.9,-3.7],[-1.35,4.1,-2.5],[-1.15,6.6,-3.3],[-1,7.4,-4.1],[-0.8,7,-4.9],[-0.6,9.1,-7.4],[-0.4,7.4,-9.1],[-0.25,8.7,-11.5],[-0.15,7.9,-15.3],[0,6.6,-12.4],[0.15,5.8,-9.9],[0.35,4.9,-9.9],[0.55,4.5,-9.1],[0.75,3.3,-9.1],[0.95,2.9,-8.2],[1.1,2.5,-6.6],[1.25,0.8,-4.1],[1.35,0.8,-1.6],[1.5,0.9,-0.6]];
const novPoints = [[-0.71,30.2],[-0.66,29.6],[-1.03,27.4],[-0.75,26.8],[-0.43,23.3],[-0.15,22.5],[-0.14,21.4],[-1.49,22.2],[-1.38,20.6],[-1.3,19.1],[0.73,18.9],[0.63,16.8],[0.93,16.6],[-0.89,18.5],[-0.78,19],[-0.76,18.5],[-0.85,18.1],[-1.18,18.3],[-1.09,18],[-1.47,17.6],[-0.66,17.5],[-0.5,17.6],[-1.59,16.2],[-1.18,16.5],[-1.11,15.9],[-1.01,15.8],[-0.41,15.8],[-0.15,16.8],[-0.06,16.5],[0.02,15.7],[0.05,14.1],[0.52,15.2],[0.48,13],[-1.81,14.1],[-1.86,13.4],[-1.6,13.7],[-1.51,13.8],[-1.3,13.9],[-0.9,14.3],[-0.62,14],[-0.32,14.3],[-0.24,15],[-0.12,13.5],[-1.21,13],[-1.21,11.5],[-0.84,11.8],[0.01,12],[-1.72,11.2],[-1.88,10.5],[-1.78,10.5],[-1.58,10.5],[-1.39,10.6],[-1.32,10.6],[0.16,10.1],[1.15,9.6],[0.66,9.5],[-0.1,9.9],[-1.61,9.3],[0.04,8.9],[-1.38,7.6],[-1.27,7.3],[1.44,6.8],[1.02,6.7],[0.44,7.4],[0.49,7],[0.94,5.4],[1.16,6.1],[1.22,4.9],[1.4,1.9],[1.52,2],[1.59,-0.2],[1.52,-1.9],[1.35,-4.4],[1.24,-7],[1.25,-9.7],[1.15,-8.2],[1.1,-9.1],[1.02,-11],[1.06,-19.1],[1.33,-19.6],[1.04,-21.3],[1.01,-25],[0.99,-30.3],[0.9,-27.6],[0.9,-28.7],[0.81,-21.8],[0.81,-23.8],[0.69,-19.5],[0.65,-17.5],[0.49,-16.7],[0.48,-17.9],[0.5,-19.3],[0.36,-16.6],[0.36,-20.1],[0.35,-23.7],[0.27,-27],[0.6,-13.2],[0.87,-12.6],[0.74,-13.2],[0.3,-13.3],[0.17,-12.8],[0.12,-18.1],[0.16,-20.6],[0.15,-22],[0.09,-24.7],[0.01,-21.8],[-0.03,-24.2],[-0.12,-24.7],[-0.15,-21.8],[-0.21,-20.9],[-0.02,-18.1],[0.09,-15.3],[-0.24,-28.9],[-0.1,-30],[-0.23,-34.9],[-0.12,-37],[0.04,-35.9],[0.11,-40.2],[0.28,-40.6],[-0.28,-46.7],[0.13,-49.5],[0.39,-50.4],[0.49,-43.9],[0.59,-43.9],[0.91,-39.4],[1.15,-35.3],[-0.47,-29.4],[-0.45,-34.5],[-0.43,-39.3],[-0.63,-30.7],[-0.6,-24.5],[-0.62,-20.9],[-0.61,-22.1],[-0.83,-25],[-0.83,-19.5],[-1.08,-19],[-0.46,-18.8],[-0.38,-20.3],[-0.53,-14.3],[-0.63,-14],[-0.64,-16.7],[-0.59,-16.8],[-0.35,-14.7],[-0.3,-15.3],[-0.46,-65.5],[-0.07,-71.3],[-1.53,-13],[-1.58,-12.4],[-1.68,-10.5],[-1.73,-9.1],[-1.78,-8.4],[-1.7,-7.6],[-1.52,-7],[-1.32,-4.9],[-1.23,-6.8],[-1.08,-8.2],[-0.92,-6.2],[-0.83,-7]];

const decXLim = [-2.088,1.764];
const decYLim = [-58.49,78.8];
const decXTicks = [-2,-1.5,-1,-0.5,0,0.5,1,1.5];
const decXLabels = ["-2.0","-1.5","-1.0","-0.5","0.0","0.5","1.0","1.5"];
const decYTicks = [60,40,20,0,-20,-40];
const decYLabels = ["60","40","20","0","-20","-40"];
const decFringe = [[-1.95,1.5,-1],[-1.8,4,-2.5],[-1.6,5,-3.5],[-1.4,5.5,-5],[-1.2,7,-5],[-1.1,14,-11],[-1,8,-6],[-0.85,10,-6.5],[-0.7,12,-8],[-0.5,13,-9.5],[-0.3,12,-11.5],[-0.1,11,-15],[0.05,10,-15.5],[0.2,7,-13],[0.4,6,-10],[0.6,6,-10],[0.8,3,-9],[1,2,-9],[1.2,1.5,-9],[1.35,0.5,-5],[1.45,0.5,-3]];
const decBand = [[-1.95,1.1,-0.6],[-1.8,3.2,-1.4],[-1.6,3.7,-2.5],[-1.4,3.7,-3.5],[-1.2,4.2,-3.5],[-1.13,5.5,-4.5],[-1.08,13,-10.7],[-1.03,5.5,-5.5],[-0.9,4.8,-3.5],[-0.7,8.4,-5.6],[-0.5,9.4,-7.6],[-0.3,7.3,-10.2],[-0.1,7.9,-13.8],[0.05,6.8,-13.8],[0.2,4.2,-10.7],[0.4,3.2,-7.6],[0.6,3.7,-7.6],[0.8,1.7,-7.1],[1,1.4,-7.6],[1.2,0.6,-5.6],[1.35,0.1,-2.5]];
const decPoints = [[-0.5,73.6],[-0.54,54.6],[-1.27,49.2],[-1.37,46.8],[-0.82,48.8],[-0.69,48.1],[0.63,43.5],[-1.19,43.2],[-1.18,41.5],[-1.5,42.6],[-1.6,40.7],[-1.4,40.1],[-1.41,39.3],[-0.37,39.7],[0.15,37.7],[-0.13,36.7],[-0.64,34],[-0.65,32.4],[-0.91,33.9],[-0.99,33.5],[-0.28,33.2],[-1.45,32.9],[-1.36,33],[-1.3,32.2],[-1.1,31.3],[-1.16,29.8],[-1.28,29.4],[-1.19,28.6],[-0.14,30.1],[0.36,30],[0.55,28],[-0.53,30],[-0.52,29],[-0.58,28.8],[-0.51,26.7],[-1.03,26.5],[-0.73,26.2],[-0.63,25.6],[-0.43,23.8],[-1.16,23.3],[-1.24,22.6],[-1.55,22],[-1.45,21.4],[-0.84,22.7],[-0.71,21.7],[-0.55,22.8],[-0.58,21.3],[0.23,21.3],[-0.49,20.6],[-0.34,20.2],[-0.82,19.2],[-1.18,19.9],[-1.01,18.4],[-0.43,18.8],[-1.18,17.5],[-0.64,18.2],[0.28,17.5],[-0.01,17.1],[-0.25,16.8],[-1.36,16.4],[-0.61,16.6],[-1.2,15.8],[0.03,15.4],[-0.78,15.7],[-1.46,14.4],[-0.47,15.1],[0.32,14.6],[-1.45,11.1],[-1.24,11.6],[-1.09,13.5],[-0.91,13.8],[-0.15,12.6],[-0.09,11.9],[0.15,11.6],[0.26,12],[0.39,12.7],[0.65,10.3],[-1.66,8.5],[0.44,9.4],[0.28,7.3],[0.47,8.4],[0.64,6.3],[1.01,2.9],[0.82,2.9],[1.51,0.9],[1.62,-17.3],[1.38,-8.4],[1.43,-4.5],[1.13,-13.1],[0.94,-9.2],[0.81,-11.5],[0.94,-17.5],[0.71,-16.1],[0.78,-24],[0.7,-21.4],[0.67,-22.6],[1,-22.9],[1.05,-22.6],[0.93,-33],[0.46,-22.9],[0.43,-18.3],[0.45,-13.1],[0.3,-18.2],[0.27,-13.1],[0.37,-12],[0.56,-10.7],[0.42,-28.6],[0.28,-28.3],[0.22,-27.5],[0.23,-21.1],[0.14,-21.1],[0.1,-21.8],[0.16,-14.9],[0.13,-28.8],[0.12,-30.1],[0.06,-31.1],[-0.05,-32.1],[-0.01,-34.5],[-0.1,-35.2],[-0.07,-37.4],[-0.26,-39.7],[-0.09,-26.5],[-0.08,-22.4],[-0.11,-24.9],[-0.17,-21.1],[-0.27,-22.1],[-0.35,-19.4],[-0.22,-17.5],[-0.33,-15.9],[-0.41,-25.5],[-0.45,-18.2],[-0.5,-20.8],[-0.58,-15.2],[-0.61,-18.3],[-0.64,-19.6],[-0.54,-11.6],[-0.78,-13.8],[-0.84,-12.8],[-0.84,-16.4],[-0.84,-18.8],[-0.77,-33.8],[-0.63,-36.7],[-0.48,-36.4],[-1,-32.4],[-1.04,-33.5],[-1.09,-34.6],[-1.32,-25.3],[-1.2,-42.6],[-0.84,-53.5],[0.42,-43.2],[0.48,-35.7],[0.47,-37.3],[0.63,-48.3],[0.82,-53.1],[-1.08,-12.3],[-1.63,-12.1],[-1.67,-8.7],[-1.59,-7.4],[-1.44,-8.5],[-1.35,-8.5],[-1.24,-6.6],[-0.95,-8.4],[-1.8,-2.3],[-1.65,-3.5]];

const panelSeries = [
  {xLim:janXLim,yLim:janYLim,xTicks:janXTicks,xLabels:janXLabels,yTicks:janYTicks,yLabels:janYLabels,fringe:janFringe,band:janBand,points:janPoints},
  {xLim:febXLim,yLim:febYLim,xTicks:febXTicks,xLabels:febXLabels,yTicks:febYTicks,yLabels:febYLabels,fringe:febFringe,band:febBand,points:febPoints},
  {xLim:marXLim,yLim:marYLim,xTicks:marXTicks,xLabels:marXLabels,yTicks:marYTicks,yLabels:marYLabels,fringe:marFringe,band:marBand,points:marPoints},
  {xLim:aprXLim,yLim:aprYLim,xTicks:aprXTicks,xLabels:aprXLabels,yTicks:aprYTicks,yLabels:aprYLabels,fringe:aprFringe,band:aprBand,points:aprPoints},
  {xLim:mayXLim,yLim:mayYLim,xTicks:mayXTicks,xLabels:mayXLabels,yTicks:mayYTicks,yLabels:mayYLabels,fringe:mayFringe,band:mayBand,points:mayPoints},
  {xLim:junXLim,yLim:junYLim,xTicks:junXTicks,xLabels:junXLabels,yTicks:junYTicks,yLabels:junYLabels,fringe:junFringe,band:junBand,points:junPoints},
  {xLim:julXLim,yLim:julYLim,xTicks:julXTicks,xLabels:julXLabels,yTicks:julYTicks,yLabels:julYLabels,fringe:julFringe,band:julBand,points:julPoints},
  {xLim:augXLim,yLim:augYLim,xTicks:augXTicks,xLabels:augXLabels,yTicks:augYTicks,yLabels:augYLabels,fringe:augFringe,band:augBand,points:augPoints},
  {xLim:sepXLim,yLim:sepYLim,xTicks:sepXTicks,xLabels:sepXLabels,yTicks:sepYTicks,yLabels:sepYLabels,fringe:sepFringe,band:sepBand,points:sepPoints},
  {xLim:octXLim,yLim:octYLim,xTicks:octXTicks,xLabels:octXLabels,yTicks:octYTicks,yLabels:octYLabels,fringe:octFringe,band:octBand,points:octPoints},
  {xLim:novXLim,yLim:novYLim,xTicks:novXTicks,xLabels:novXLabels,yTicks:novYTicks,yLabels:novYLabels,fringe:novFringe,band:novBand,points:novPoints},
  {xLim:decXLim,yLim:decYLim,xTicks:decXTicks,xLabels:decXLabels,yTicks:decYTicks,yLabels:decYLabels,fringe:decFringe,band:decBand,points:decPoints}
];

const SVG_NS = "http://www.w3.org/2000/svg";
const chart = document.getElementById("chart");
const columnLefts = [93.3,600.7,1108.3,1615.3];
const rowTops = [30.8,571,1111];
const panelWidth = 452.3;
const panelHeight = 443.3;
const tickLength = 14;

function make(parent, tag, attrs) {
  const el = document.createElementNS(SVG_NS, tag);
  for (const key in attrs) el.setAttribute(key, attrs[key]);
  parent.appendChild(el);
  return el;
}

panelSeries.forEach(function (series, index) {
  const slug = months[index].toLowerCase();
  const left = columnLefts[index % 4];
  const top = rowTops[Math.floor(index / 4)];
  const bottom = top + panelHeight;
  const xScale = function (v) { return left + (v - series.xLim[0]) / (series.xLim[1] - series.xLim[0]) * panelWidth; };
  const yScale = function (v) { return bottom - (v - series.yLim[0]) / (series.yLim[1] - series.yLim[0]) * panelHeight; };
  const outline = function (rows) {
    const upper = rows.map(function (r) { return xScale(r[0]).toFixed(1) + "," + yScale(r[1]).toFixed(1); });
    const lower = rows.slice().reverse().map(function (r) { return xScale(r[0]).toFixed(1) + "," + yScale(r[2]).toFixed(1); });
    return upper.concat(lower).join(" ");
  };

  const group = make(chart, "g", {});
  
  

  const clip = make(group, "clipPath", {id: "clip-" + slug});
  make(clip, "rect", {x: left, y: top, width: panelWidth, height: panelHeight});

  const title = make(group, "text", {x: left + panelWidth / 2, y: top - 10.5, "text-anchor": "middle", "font-size": "27.4", "font-weight": "700"});
  title.textContent = months[index];
  
  

  const fringe = make(group, "polygon", {points: outline(series.fringe), fill: "url(#ring-texture)"});
  
  

  const core = make(group, "polygon", {points: outline(series.band), fill: "#000", stroke: "#000", "stroke-width": "3", "stroke-linejoin": "round"});
  
  

  const pointGroup = make(group, "g", {fill: "none", stroke: "#000", "stroke-width": "2.3"});
  
  
  series.points.forEach(function (p) {
    const dot = make(pointGroup, "circle", {cx: xScale(p[0]).toFixed(1), cy: yScale(p[1]).toFixed(1), r: "4.9"});
    
    
  });

  const refLine = make(group, "line", {
    x1: xScale(series.xLim[0]), y1: yScale(refIntercept + refSlope * series.xLim[0]),
    x2: xScale(series.xLim[1]), y2: yScale(refIntercept + refSlope * series.xLim[1]),
    stroke: "#f00", "stroke-width": "4.8", "clip-path": "url(#clip-" + slug + ")"
  });
  
  

  const box = make(group, "rect", {x: left, y: top, width: panelWidth, height: panelHeight, fill: "none", stroke: "#111", "stroke-width": "2"});
  
  

  series.xTicks.forEach(function (v, i) {
    const px = xScale(v);
    const tick = make(group, "line", {x1: px, y1: bottom, x2: px, y2: bottom + tickLength, stroke: "#111", "stroke-width": "2"});
    
    
    if (series.xLabels[i]) {
      const label = make(group, "text", {x: px, y: bottom + 36, "text-anchor": "middle", "font-size": "22"});
      label.textContent = series.xLabels[i];
      
      
    }
  });

  series.yTicks.forEach(function (v, i) {
    const py = yScale(v);
    const tick = make(group, "line", {x1: left - tickLength, y1: py, x2: left, y2: py, stroke: "#111", "stroke-width": "2"});
    
    
    const label = make(group, "text", {transform: "translate(" + (left - 20) + " " + py + ") rotate(-90)", "text-anchor": "middle", "font-size": "22"});
    label.textContent = series.yLabels[i];
    
    
  });
});
</script>
</body>
</html>
